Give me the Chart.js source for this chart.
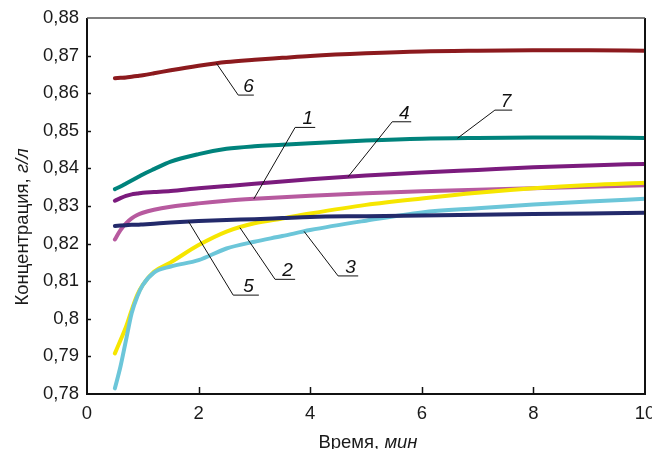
<!DOCTYPE html>
<html>
<head>
<meta charset="utf-8">
<script src="https://cdn.jsdelivr.net/npm/chart.js@4"></script>
<style>
  html, body { margin: 0; padding: 0; background: #fff; }
  canvas { display: block; }
</style>
</head>
<body>
<canvas id="c" width="652" height="449"></canvas>
<script>
// Sampling times, min
const times = [0.5, 0.6, 0.7, 0.8, 0.9, 1, 1.2, 1.5, 2, 2.5, 3, 3.5, 4, 5, 6, 7, 8, 9, 10];

// Concentration, g/l, for each curve
const series1 = [0.8211, 0.8236, 0.8254, 0.8267, 0.8276, 0.8282, 0.8290, 0.8298, 0.8307, 0.8314, 0.8319, 0.8323, 0.8327, 0.8334, 0.8339, 0.8343, 0.8347, 0.8351, 0.8355];
const series2 = [0.7908, 0.7943, 0.7979, 0.8023, 0.8063, 0.8090, 0.8125, 0.8150, 0.8196, 0.8232, 0.8254, 0.8267, 0.8280, 0.8303, 0.8320, 0.8335, 0.8347, 0.8356, 0.8362];
const series3 = [0.7815, 0.7873, 0.7944, 0.8015, 0.8059, 0.8090, 0.8123, 0.8139, 0.8156, 0.8187, 0.8205, 0.8220, 0.8236, 0.8261, 0.8283, 0.8294, 0.8304, 0.8312, 0.8319];
const series4 = [0.8314, 0.8321, 0.8327, 0.8331, 0.8333, 0.8335, 0.8337, 0.8340, 0.8347, 0.8353, 0.8359, 0.8365, 0.8371, 0.8381, 0.8389, 0.8396, 0.8403, 0.8408, 0.8412];
const series5 = [0.8247, 0.8248, 0.8249, 0.8250, 0.8250, 0.8251, 0.8253, 0.8256, 0.8260, 0.8263, 0.8265, 0.8268, 0.8271, 0.8273, 0.8275, 0.8277, 0.8279, 0.8280, 0.8282];
const series6 = [0.8640, 0.8641, 0.8642, 0.8644, 0.8646, 0.8648, 0.8653, 0.8661, 0.8673, 0.8683, 0.8689, 0.8694, 0.8699, 0.8706, 0.8711, 0.8713, 0.8714, 0.8714, 0.8713];
const series7 = [0.8345, 0.8352, 0.8360, 0.8368, 0.8376, 0.8384, 0.8398, 0.8418, 0.8438, 0.8452, 0.8459, 0.8463, 0.8467, 0.8474, 0.8479, 0.8481, 0.8482, 0.8482, 0.8481];

// Axis ranges and tick steps
const xTicks = { min: 0, max: 10, step: 2 };
const yTicks = { min: 0.78, max: 0.88, step: 0.01 };

const FONT = "'Liberation Sans', Arial, sans-serif";

// Curves listed top-most first (Chart.js paints the first dataset last)
const curves = [
  { name: '5', data: series5, color: '#232a6b' },
  { name: '3', data: series3, color: '#6cc6d9' },
  { name: '2', data: series2, color: '#f6e600' },
  { name: '1', data: series1, color: '#b75a9f' },
  { name: '4', data: series4, color: '#7b1b7d' },
  { name: '7', data: series7, color: '#00837c' },
  { name: '6', data: series6, color: '#8c1a1e' }
];

// Numbered callouts: point on the curve (at time), elbow of the leader, end of the underline
const callouts = [
  { name: '6', data: series6, at: 2.32, elbowX: 2.71, elbowY: 0.8595, endX: 2.99 },
  { name: '1', data: series1, at: 2.99, elbowX: 3.73, elbowY: 0.8509, endX: 4.09 },
  { name: '4', data: series4, at: 4.68, elbowX: 5.47, elbowY: 0.8524, endX: 5.81 },
  { name: '7', data: series7, at: 6.64, elbowX: 7.31, elbowY: 0.8555, endX: 7.62 },
  { name: '5', data: series5, at: 1.82, elbowX: 2.62, elbowY: 0.8063, endX: 3.08 },
  { name: '2', data: series2, at: 2.74, elbowX: 3.37, elbowY: 0.8105, endX: 3.73 },
  { name: '3', data: series3, at: 3.89, elbowX: 4.50, elbowY: 0.8114, endX: 4.86 }
];

function valueAt(data, t) {
  for (let i = 0; i < times.length - 1; i++) {
    if (t >= times[i] && t <= times[i + 1]) {
      const f = (t - times[i]) / (times[i + 1] - times[i]);
      return data[i] + f * (data[i + 1] - data[i]);
    }
  }
  return data[data.length - 1];
}

function drawMixed(ctx, parts, cx, y) {
  let total = 0;
  parts.forEach(p => { ctx.font = p.font; p.w = ctx.measureText(p.text).width; total += p.w; });
  let x = cx - total / 2;
  ctx.textAlign = 'left';
  parts.forEach(p => { ctx.font = p.font; ctx.fillText(p.text, x, y); x += p.w; });
}

const decor = {
  id: 'decor',
  afterDatasetsDraw(chart) {
    const { ctx, chartArea: a, scales: { x, y } } = chart;
    ctx.save();

    // frame
    ctx.strokeStyle = '#111';
    ctx.lineCap = 'butt';
    ctx.lineWidth = 2;
    ctx.beginPath();
    ctx.moveTo(a.left, a.top);
    ctx.lineTo(a.left, a.bottom);
    ctx.lineTo(a.right, a.bottom);
    ctx.lineTo(a.right, a.top);
    ctx.stroke();
    ctx.strokeStyle = '#555';
    ctx.lineWidth = 1.5;
    ctx.beginPath();
    ctx.moveTo(a.left, a.top);
    ctx.lineTo(a.right, a.top);
    ctx.stroke();

    // inward tick marks
    ctx.strokeStyle = '#111';
    ctx.lineWidth = 1.5;
    y.ticks.forEach(t => {
      if (t.value <= yTicks.min + 1e-9 || t.value >= yTicks.max - 1e-9) return;
      const py = Math.round(y.getPixelForValue(t.value)) + 0.5;
      ctx.beginPath();
      ctx.moveTo(a.left, py);
      ctx.lineTo(a.left + 4, py);
      ctx.stroke();
    });
    x.ticks.forEach(t => {
      if (t.value <= xTicks.min || t.value >= xTicks.max) return;
      const px = Math.round(x.getPixelForValue(t.value)) + 0.5;
      ctx.beginPath();
      ctx.moveTo(px, a.bottom);
      ctx.lineTo(px, a.bottom - 7);
      ctx.stroke();
    });

    // callouts
    ctx.strokeStyle = '#111';
    ctx.fillStyle = '#111';
    ctx.lineWidth = 1;
    callouts.forEach(c => {
      const ax = x.getPixelForValue(c.at);
      const ay = y.getPixelForValue(valueAt(c.data, c.at));
      const ex = x.getPixelForValue(c.elbowX);
      const ey = y.getPixelForValue(c.elbowY);
      const rx = x.getPixelForValue(c.endX);
      ctx.beginPath();
      ctx.moveTo(ax, ay);
      ctx.lineTo(ex, ey);
      ctx.lineTo(rx, ey);
      ctx.stroke();
      ctx.font = 'italic 19px ' + FONT;
      ctx.textAlign = 'center';
      ctx.textBaseline = 'alphabetic';
      ctx.fillText(c.name, (ex + rx) / 2 + 2.5, ey - 3);
    });

    // axis titles
    ctx.fillStyle = '#1a1a1a';
    ctx.textBaseline = 'alphabetic';
    drawMixed(ctx, [
      { text: 'Время, ', font: '18.5px ' + FONT },
      { text: 'мин', font: 'italic 18.5px ' + FONT }
    ], (a.left + a.right) / 2 + 2, 448);

    ctx.save();
    ctx.translate(28, 227);
    ctx.rotate(-Math.PI / 2);
    drawMixed(ctx, [
      { text: 'Концентрация, ', font: '18.5px ' + FONT },
      { text: 'г/л', font: 'italic 18.5px ' + FONT }
    ], 0, 0);
    ctx.restore();

    ctx.restore();
  }
};

new Chart(document.getElementById('c'), {
  type: 'line',
  data: {
    datasets: curves.map(c => ({
      label: c.name,
      data: times.map((t, i) => ({ x: t, y: c.data[i] })),
      borderColor: c.color,
      backgroundColor: c.color,
      borderWidth: 4,
      borderCapStyle: 'round',
      borderJoinStyle: 'round',
      pointRadius: 0,
      cubicInterpolationMode: 'monotone',
      fill: false
    }))
  },
  options: {
    responsive: false,
    animation: false,
    layout: { padding: { left: 0, top: 18, right: 7, bottom: 0 } },
    plugins: { legend: { display: false }, tooltip: { enabled: false } },
    scales: {
      x: {
        type: 'linear',
        min: xTicks.min,
        max: xTicks.max,
        grid: { display: false, drawTicks: false },
        border: { display: false },
        ticks: {
          stepSize: xTicks.step,
          padding: 9,
          color: '#1a1a1a',
          font: { family: FONT, size: 18.5 },
          maxRotation: 0
        },
        afterFit(s) { s.height = 55; s.paddingLeft = 0; s.paddingRight = 0; }
      },
      y: {
        type: 'linear',
        min: yTicks.min,
        max: yTicks.max,
        grid: { display: false, drawTicks: false },
        border: { display: false },
        ticks: {
          stepSize: yTicks.step,
          padding: 8,
          color: '#1a1a1a',
          font: { family: FONT, size: 18.5 },
          callback: v => String(Math.round(v * 100) / 100).replace('.', ',')
        },
        afterFit(s) { s.width = 87; s.paddingTop = 0; s.paddingBottom = 0; }
      }
    }
  },
  plugins: [decor]
});
</script>
</body>
</html>
